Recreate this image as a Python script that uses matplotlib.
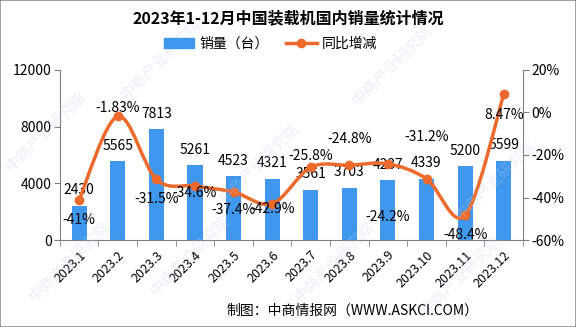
import numpy as np
import matplotlib
matplotlib.use("Agg")
from matplotlib import pyplot as plt
from matplotlib.path import Path
from matplotlib.patches import PathPatch, Rectangle
from matplotlib.lines import Line2D

plt.rcParams['font.family'] = ['Noto Sans CJK SC', 'DejaVu Sans']
plt.rcParams['axes.unicode_minus'] = False

months = ['2023.1', '2023.2', '2023.3', '2023.4', '2023.5', '2023.6',
          '2023.7', '2023.8', '2023.9', '2023.10', '2023.11', '2023.12']
sales = [2430, 5565, 7813, 5261, 4523, 4321, 3561, 3703, 4237, 4339, 5200, 5599]
yoy = [-41, -1.83, -31.5, -34.6, -37.4, -42.9, -25.8, -24.8, -24.2, -31.2, -48.4, 8.47]
yoy_text = ['-41%', '-1.83%', '-31.5%', '-34.6%', '-37.4%', '-42.9%',
            '-25.8%', '-24.8%', '-24.2%', '-31.2%', '-48.4%', '8.47%']

# label offsets (points) for the percentage annotations
pct_offsets = [(0, -15), (0, 6), (0, -14), (0, -5), (0, -13), (0, -4),
               (0, 8), (0, 19), (0, -38), (0, 30), (0, -14), (0, -15)]

BLUE = '#3f97ee'
ORANGE = '#ee6a2c'

fig = plt.figure(figsize=(5.76, 3.27), dpi=100)
fig.patches.append(Rectangle((0, 0), 1, 1, transform=fig.transFigure,
                             fill=False, edgecolor='#8c8c8c', lw=1.2))

# faint watermark
for wx, wy in [(0.08, 0.6), (0.28, 0.82), (0.45, 0.5), (0.68, 0.8), (0.86, 0.45),
               (0.12, 0.2), (0.33, 0.22), (0.58, 0.2), (0.8, 0.16)]:
    fig.text(wx, wy, '中商产业研究院', rotation=45, fontsize=11, color='#b9cde3',
             alpha=0.3, ha='center', va='center', zorder=0)

ax = fig.add_axes([0.104, 0.266, 0.804, 0.52])
ax.set_facecolor('none')
x = np.arange(len(months))
ax.bar(x, sales, width=0.39, color=BLUE, zorder=2)
ax.set_ylim(0, 12000)
ax.set_xlim(-0.5, len(months) - 0.5)
ax.set_yticks([0, 4000, 8000, 12000])
ax.set_yticklabels(['0', '4000', '8000', '12000'], fontsize=10)
ax.set_xticks(x)
ax.set_xticklabels(months, rotation=45, ha='right', va='top', fontsize=9,
                   rotation_mode='anchor')
ax.tick_params(axis='x', length=0, pad=6)
ax.set_xticks(np.arange(-0.5, len(months)), minor=True)
ax.tick_params(axis='x', which='minor', length=4, color='#808080')
ax.tick_params(axis='y', length=4, color='#808080', pad=2)
for s in ['top', 'right']:
    ax.spines[s].set_visible(False)
for s in ['left', 'bottom']:
    ax.spines[s].set_color('#808080')

for xi, v in zip(x, sales):
    ax.annotate(str(v), (xi, v), xytext=(0, 6), textcoords='offset points',
                ha='center', va='bottom', fontsize=10, zorder=5)

ax2 = ax.twinx()
ax2.set_ylim(-60, 20)
ax2.set_yticks([-60, -40, -20, 0, 20])
ax2.set_yticklabels(['-60%', '-40%', '-20%', '0%', '20%'], fontsize=10)
ax2.tick_params(axis='y', length=4, color='#808080', pad=2)
for s in ['top', 'left', 'bottom']:
    ax2.spines[s].set_visible(False)
ax2.spines['right'].set_color('#808080')

# smooth line through the yoy points (Catmull-Rom as cubic Bezier segments)
pts = np.column_stack([x, yoy]).astype(float)
verts = [tuple(pts[0])]
codes = [Path.MOVETO]
n = len(pts)
for i in range(n - 1):
    p0 = pts[i - 1] if i > 0 else pts[i]
    p1, p2 = pts[i], pts[i + 1]
    p3 = pts[i + 2] if i + 2 < n else pts[i + 1]
    c1 = p1 + (p2 - p0) / 6.0
    c2 = p2 - (p3 - p1) / 6.0
    verts += [tuple(c1), tuple(c2), tuple(p2)]
    codes += [Path.CURVE4] * 3
ax2.add_patch(PathPatch(Path(verts, codes), fill=False, edgecolor=ORANGE,
                        lw=2.5, zorder=3))
ax2.plot(x, yoy, 'o', color=ORANGE, ms=6, zorder=4)

for xi, v, t, off in zip(x, yoy, yoy_text, pct_offsets):
    ax2.annotate(t, (xi, v), xytext=off, textcoords='offset points',
                 ha='center', va='center', fontsize=10, zorder=5)

fig.text(0.5, 0.945, '2023年1-12月中国装载机国内销量统计情况', ha='center', va='center',
         fontsize=11.5, fontweight='bold')

handles = [Rectangle((0, 0), 1, 1, color=BLUE),
           Line2D([], [], color=ORANGE, lw=2.5, marker='o', ms=6)]
fig.legend(handles, ['销量（台）', '同比增减'], loc='center', bbox_to_anchor=(0.47, 0.865),
           ncol=2, frameon=False, fontsize=10, handlelength=2.2, columnspacing=1.2,
           handletextpad=0.4)

fig.text(0.83, 0.05, '制图：中商情报网（WWW.ASKCI.COM）', ha='right', va='center', fontsize=10)

fig.savefig('out.png', dpi=100)
